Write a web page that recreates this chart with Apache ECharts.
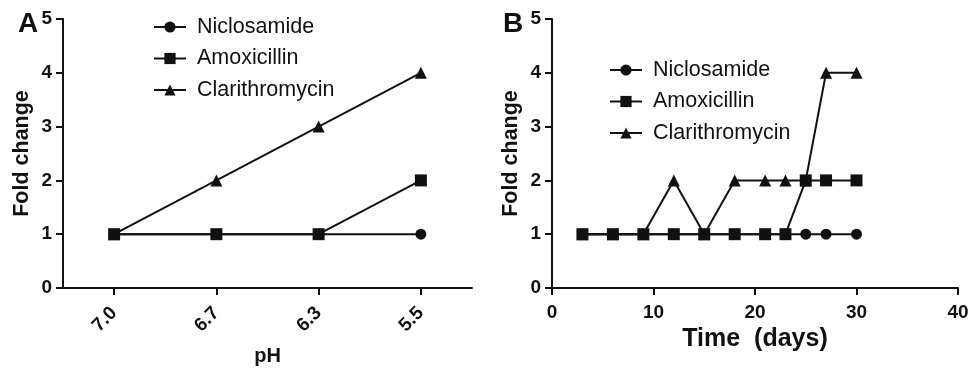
<!DOCTYPE html>
<html>
<head>
<meta charset="utf-8">
<script src="https://cdn.jsdelivr.net/npm/echarts@6/dist/echarts.min.js"></script>
<style>html,body{margin:0;padding:0;background:#fff;}#c{width:972px;height:368px;}</style>
</head>
<body>
<div id="c"></div>
<script>
// Panel A data
var phCategories = ['7.0', '6.7', '6.3', '5.5'];
var aNiclosamide = [1, 1, 1, 1];
var aAmoxicillin = [1, 1, 1, 2];
var aClarithromycin = [1, 2, 3, 4];

// Panel B data
var timeDays = [3, 6, 9, 12, 15, 18, 21, 23, 25, 27, 30];
var bNiclosamide = [1, 1, 1, 1, 1, 1, 1, 1, 1, 1, 1];
var bAmoxicillin = [1, 1, 1, 1, 1, 1, 1, 1, 2, 2, 2];
var bClarithromycin = [1, 1, 1, 2, 1, 2, 2, 2, 2, 4, 4];

var yTicks = [0, 1, 2, 3, 4, 5];
var xTicksB = [0, 10, 20, 30, 40];

var seriesNames = ['Niclosamide', 'Amoxicillin', 'Clarithromycin'];
var symbols = ['circle', 'rect', 'triangle'];
var symbolSizes = [11, 12, 12];

function pairs(xs, ys) { return xs.map(function (x, i) { return [x, ys[i]]; }); }

var FONT = '"Liberation Sans", Arial, Helvetica, sans-serif';
var BLACK = '#111';

var axisLineStyle = { show: true, lineStyle: { color: BLACK, width: 2 } };
var axisTickStyle = { show: true, inside: false, length: 7, lineStyle: { color: BLACK, width: 2 } };

function yAxisDef(gridIndex) {
  return {
    type: 'value', gridIndex: gridIndex, min: yTicks[0], max: yTicks[yTicks.length - 1], interval: 1,
    name: 'Fold change', nameLocation: 'middle', nameGap: 30,
    nameTextStyle: { fontFamily: FONT, fontWeight: 'bold', fontSize: 21.5, color: BLACK },
    axisLine: axisLineStyle, axisTick: axisTickStyle, splitLine: { show: false },
    axisLabel: { fontFamily: FONT, fontWeight: 'bold', fontSize: 19, color: BLACK, margin: 11 }
  };
}

function mkSeries(name, idx, xIdx, yIdx, data, z) {
  return {
    name: name, type: 'line', xAxisIndex: xIdx, yAxisIndex: yIdx, data: data,
    symbol: symbols[idx], symbolSize: symbolSizes[idx], showAllSymbol: true,
    lineStyle: { color: BLACK, width: 2 }, itemStyle: { color: BLACK },
    z: z, animation: false
  };
}

var legendText = { fontFamily: FONT, fontSize: 21.5, color: BLACK, padding: [0, 0, 0, 6] };

var option = {
  animation: false,
  backgroundColor: '#fff',
  title: [
    { text: 'A', left: 13, top: 5, textStyle: { fontFamily: FONT, fontWeight: 'bold', fontSize: 28, color: BLACK } },
    { text: 'B', left: 498, top: 5, textStyle: { fontFamily: FONT, fontWeight: 'bold', fontSize: 28, color: BLACK } }
  ],
  legend: [
    { data: seriesNames, orient: 'vertical', left: 148, top: 11, itemWidth: 32, itemHeight: 14, itemGap: 9.5,
      textStyle: legendText, selectedMode: false },
    { data: seriesNames, orient: 'vertical', left: 604, top: 54, itemWidth: 32, itemHeight: 14, itemGap: 9.5,
      textStyle: legendText, selectedMode: false }
  ],
  grid: [
    { left: 63, right: 500, top: 19, bottom: 80, containLabel: false, outerBoundsMode: 'none' },
    { left: 552, right: 14, top: 19, bottom: 80, containLabel: false, outerBoundsMode: 'none' }
  ],
  xAxis: [
    {
      type: 'category', gridIndex: 0, data: phCategories, boundaryGap: true,
      name: 'pH', nameLocation: 'middle', nameGap: 58,
      nameTextStyle: { fontFamily: FONT, fontWeight: 'bold', fontSize: 20, color: BLACK },
      axisLine: axisLineStyle, axisTick: Object.assign({ alignWithLabel: true }, axisTickStyle),
      axisLabel: { fontFamily: FONT, fontWeight: 'bold', fontSize: 19, color: BLACK, rotate: 45, margin: 22 }
    },
    {
      type: 'value', gridIndex: 1, min: xTicksB[0], max: xTicksB[xTicksB.length - 1], interval: 10,
      name: 'Time  (days)', nameLocation: 'middle', nameGap: 38,
      nameTextStyle: { fontFamily: FONT, fontWeight: 'bold', fontSize: 25, color: BLACK },
      axisLine: axisLineStyle, axisTick: axisTickStyle, splitLine: { show: false },
      axisLabel: { fontFamily: FONT, fontWeight: 'bold', fontSize: 19, color: BLACK, margin: 15 }
    }
  ],
  yAxis: [yAxisDef(0), yAxisDef(1)],
  series: [
    mkSeries('Niclosamide', 0, 0, 0, aNiclosamide, 2),
    mkSeries('Clarithromycin', 2, 0, 0, aClarithromycin, 3),
    mkSeries('Amoxicillin', 1, 0, 0, aAmoxicillin, 4),
    mkSeries('Niclosamide', 0, 1, 1, pairs(timeDays, bNiclosamide), 2),
    mkSeries('Clarithromycin', 2, 1, 1, pairs(timeDays, bClarithromycin), 3),
    mkSeries('Amoxicillin', 1, 1, 1, pairs(timeDays, bAmoxicillin), 4)
  ]
};

var chart = echarts.init(document.getElementById('c'), null, { renderer: 'canvas' });
chart.setOption(option);
</script>
</body>
</html>
